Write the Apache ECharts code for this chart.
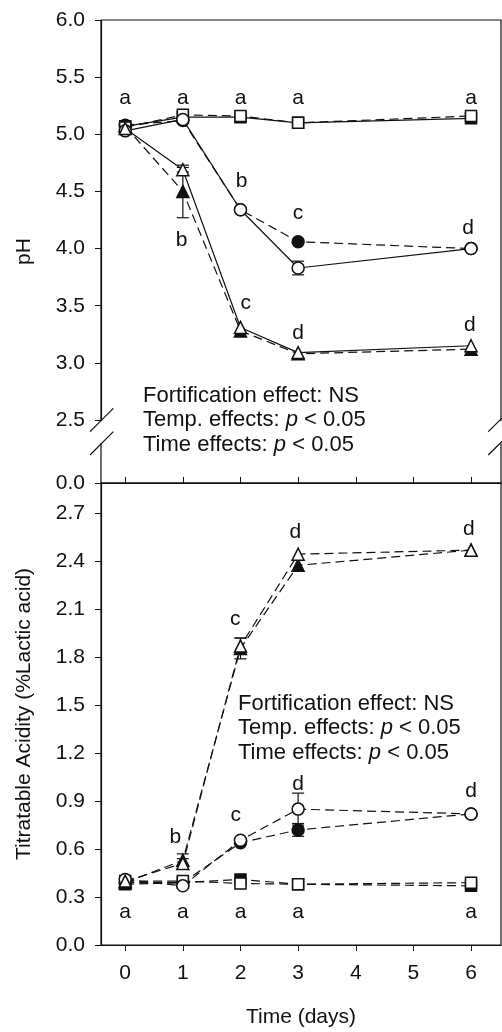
<!DOCTYPE html>
<html>
<head>
  <meta charset="UTF-8">
  <title>pH and Titratable Acidity</title>
  <style>
    body { margin: 0; }
    #main { width: 502px; height: 1032px; }
  </style>
</head>
<body>
  <div id="main"></div>
  <script src="https://cdn.jsdelivr.net/npm/echarts@6/dist/echarts.min.js"></script>
  <script>
    const days = [0, 1, 2, 3, 6];
    const dayTicks = [0, 1, 2, 3, 4, 5, 6];

    // pH (top panel)
    const phFilledCircle   = [5.08, 5.12, 4.34, 4.06, 4.00];
    const phOpenCircle     = [5.03, 5.13, 4.34, 3.83, 4.00];
    const phFilledTriangle = [5.07, 4.50, 3.28, 3.08, 3.12];
    const phOpenTriangle   = [5.05, 4.69, 3.31, 3.09, 3.15];
    const phFilledSquare   = [5.07, 5.15, 5.15, 5.10, 5.14];
    const phOpenSquare     = [5.06, 5.17, 5.16, 5.10, 5.16];
    const phErrFilledTriangle = [0, 0.23, 0, 0, 0];
    const phErrOpenTriangle   = [0, 0.02, 0, 0, 0];
    const phErrOpenCircle     = [0, 0, 0, 0.06, 0];
    const phLetters = [
      [0, 5.32, 'a'], [1, 5.32, 'a'], [2, 5.32, 'a'], [3, 5.32, 'a'], [6, 5.32, 'a'],
      [0.98, 4.07, 'b'], [2.02, 4.59, 'b'], [3, 4.31, 'c'], [5.95, 4.18, 'd'],
      [2.09, 3.52, 'c'], [3, 3.26, 'd'], [5.98, 3.33, 'd']
    ];

    // titratable acidity (bottom panel)
    const taFilledCircle   = [0.39, 0.39, 0.64, 0.72, 0.82];
    const taOpenCircle     = [0.41, 0.37, 0.655, 0.85, 0.82];
    const taFilledTriangle = [0.39, 0.53, 1.855, 2.375, 2.47];
    const taOpenTriangle   = [0.40, 0.51, 1.87, 2.445, 2.47];
    const taFilledSquare   = [0.38, 0.39, 0.41, 0.38, 0.37];
    const taOpenSquare     = [0.40, 0.40, 0.385, 0.38, 0.39];
    const taErrFilledTriangle = [0, 0.04, 0.065, 0, 0];
    const taErrOpenTriangle   = [0, 0.03, 0.05, 0, 0];
    const taErrOpenCircle     = [0, 0, 0, 0.10, 0];
    const taErrFilledCircle   = [0, 0, 0, 0.04, 0];
    const taLetters = [
      [0, 0.206, 'a'], [1, 0.206, 'a'], [2, 0.206, 'a'], [3, 0.206, 'a'], [6, 0.206, 'a'],
      [0.87, 0.676, 'b'], [1.92, 0.81, 'c'], [3, 1.006, 'd'], [6, 0.96, 'd'],
      [1.91, 2.04, 'c'], [2.95, 2.58, 'd'], [5.96, 2.60, 'd']
    ];

    const FONT = '"Liberation Sans", Arial, sans-serif';
    const INK = '#111';

    function lineSeries(values, shape, filled, dashed, axis) {
      return {
        type: 'line',
        xAxisIndex: axis,
        yAxisIndex: axis,
        data: days.map((d, i) => [d, values[i]]),
        symbol: shape,
        symbolSize: shape === 'rect' ? 11 : 12,
        showAllSymbol: true,
        itemStyle: { color: filled ? INK : '#fff', borderColor: INK, borderWidth: 1.5 },
        lineStyle: { color: INK, width: 1.2, type: dashed ? [9, 5] : 'solid' },
        z: filled ? 3 : 4,
        silent: true
      };
    }

    function errorSeries(values, errors, axis) {
      const data = [];
      days.forEach((d, i) => {
        if (errors[i] > 0) data.push([d, values[i] - errors[i], values[i] + errors[i]]);
      });
      return {
        type: 'custom',
        xAxisIndex: axis,
        yAxisIndex: axis,
        z: 2,
        silent: true,
        encode: { x: 0, y: [1, 2] },
        data: data,
        renderItem: function (params, api) {
          const lo = api.coord([api.value(0), api.value(1)]);
          const hi = api.coord([api.value(0), api.value(2)]);
          const w = 6;
          const st = { stroke: INK, lineWidth: 1.2 };
          return {
            type: 'group',
            children: [
              { type: 'line', shape: { x1: lo[0], y1: lo[1], x2: hi[0], y2: hi[1] }, style: st },
              { type: 'line', shape: { x1: lo[0] - w, y1: lo[1], x2: lo[0] + w, y2: lo[1] }, style: st },
              { type: 'line', shape: { x1: hi[0] - w, y1: hi[1], x2: hi[0] + w, y2: hi[1] }, style: st }
            ]
          };
        }
      };
    }

    // significance letters, placed in data coordinates
    function letterSeries(items, axis) {
      return {
        type: 'custom',
        xAxisIndex: axis,
        yAxisIndex: axis,
        z: 6,
        silent: true,
        data: items,
        encode: { x: 0, y: 1 },
        renderItem: function (params, api) {
          const p = api.coord([api.value(0), api.value(1)]);
          return {
            type: 'text', x: p[0], y: p[1],
            style: {
              text: items[params.dataIndex][2], fill: INK,
              font: '21px ' + FONT, align: 'center', verticalAlign: 'middle'
            }
          };
        }
      };
    }

    function noteBlock(x, y) {
      const base = { fontSize: 22, fontFamily: FONT, fill: INK };
      const rich = { n: base, i: Object.assign({}, base, { fontStyle: 'italic' }) };
      const lines = [
        '{n|Fortification effect: NS}',
        '{n|Temp. effects: }{i|p}{n| < 0.05}',
        '{n|Time effects: }{i|p}{n| < 0.05}'
      ];
      return lines.map((t, k) => ({
        type: 'text', x: x, y: y + k * 24.3, z: 50,
        style: { text: t, rich: rich, verticalAlign: 'middle', align: 'left' }
      }));
    }

    const slash = (x1, y1, x2, y2) => ({
      type: 'line', z: 60, shape: { x1, y1, x2, y2 }, style: { stroke: INK, lineWidth: 1.2 }
    });
    const gapRect = (x) => ({
      type: 'rect', z: 55, shape: { x: x - 3, y: 421, width: 6, height: 22.5 }, style: { fill: '#fff' }
    });

    const axisFont = { fontSize: 21, fontFamily: FONT, color: INK };
    const axisLine = { show: true, onZero: false, lineStyle: { color: INK, width: 1.2 } };

    const chart = echarts.init(document.getElementById('main'));
    chart.setOption({
      animation: false,
      grid: [
        { left: 101, top: 20, width: 400, height: 463, show: true, borderColor: INK, borderWidth: 1.2 },
        { left: 101, top: 483, width: 400, height: 462, show: true, borderColor: INK, borderWidth: 1.2 }
      ],
      xAxis: [
        {
          type: 'value', gridIndex: 0, min: -0.42, max: 6.52,
          axisLine: axisLine,
          axisTick: { inside: true, length: 6, customValues: dayTicks, lineStyle: { color: INK } },
          axisLabel: { show: false },
          splitLine: { show: false }
        },
        {
          type: 'value', gridIndex: 1, min: -0.42, max: 6.52,
          name: 'Time (days)', nameLocation: 'middle', nameGap: 62,
          nameTextStyle: axisFont,
          axisLine: axisLine,
          axisTick: { length: 6, customValues: dayTicks, lineStyle: { color: INK } },
          axisLabel: Object.assign({ customValues: dayTicks, margin: 18 }, axisFont),
          splitLine: { show: false }
        }
      ],
      yAxis: [
        {
          type: 'value', gridIndex: 0, min: 0, max: 6, interval: 0.5,
          breaks: [{ start: 0, end: 2.5, gap: '13.6%' }],
          breakArea: { show: false },
          name: 'pH', nameLocation: 'middle', nameGap: 66,
          nameTextStyle: axisFont,
          axisLine: axisLine,
          axisTick: { show: true, length: 6, lineStyle: { color: INK } },
          axisLabel: Object.assign({ margin: 16, formatter: v => v.toFixed(1) }, axisFont),
          splitLine: { show: false }
        },
        {
          type: 'value', gridIndex: 1, min: 0, max: 2.89, interval: 0.3,
          name: 'Titratable Acidity (%Lactic acid)', nameLocation: 'middle', nameGap: 66,
          nameTextStyle: axisFont,
          axisLine: axisLine,
          axisTick: { show: true, length: 6, lineStyle: { color: INK } },
          axisLabel: Object.assign({ margin: 16, showMaxLabel: false, formatter: v => v.toFixed(1) }, axisFont),
          splitLine: { show: false }
        }
      ],
      series: [
        errorSeries(phFilledTriangle, phErrFilledTriangle, 0),
        errorSeries(phOpenTriangle, phErrOpenTriangle, 0),
        errorSeries(phOpenCircle, phErrOpenCircle, 0),
        lineSeries(phFilledSquare, 'rect', true, false, 0),
        lineSeries(phOpenSquare, 'rect', false, true, 0),
        lineSeries(phFilledCircle, 'circle', true, true, 0),
        lineSeries(phOpenCircle, 'circle', false, false, 0),
        lineSeries(phFilledTriangle, 'triangle', true, true, 0),
        lineSeries(phOpenTriangle, 'triangle', false, false, 0),
        letterSeries(phLetters, 0),

        errorSeries(taFilledTriangle, taErrFilledTriangle, 1),
        errorSeries(taOpenTriangle, taErrOpenTriangle, 1),
        errorSeries(taOpenCircle, taErrOpenCircle, 1),
        errorSeries(taFilledCircle, taErrFilledCircle, 1),
        lineSeries(taFilledSquare, 'rect', true, true, 1),
        lineSeries(taOpenSquare, 'rect', false, true, 1),
        lineSeries(taFilledCircle, 'circle', true, true, 1),
        lineSeries(taOpenCircle, 'circle', false, true, 1),
        lineSeries(taFilledTriangle, 'triangle', true, true, 1),
        lineSeries(taOpenTriangle, 'triangle', false, true, 1),
        letterSeries(taLetters, 1)
      ],
      graphic: [
        gapRect(101), gapRect(501),
        slash(90, 431.7, 113.3, 408.3), slash(90, 455, 113.3, 431.7),
        slash(488.3, 431.7, 513, 407), slash(488.3, 455, 513, 430.3)
      ].concat(noteBlock(143, 396), noteBlock(238, 704))
    });
  </script>
</body>
</html>
